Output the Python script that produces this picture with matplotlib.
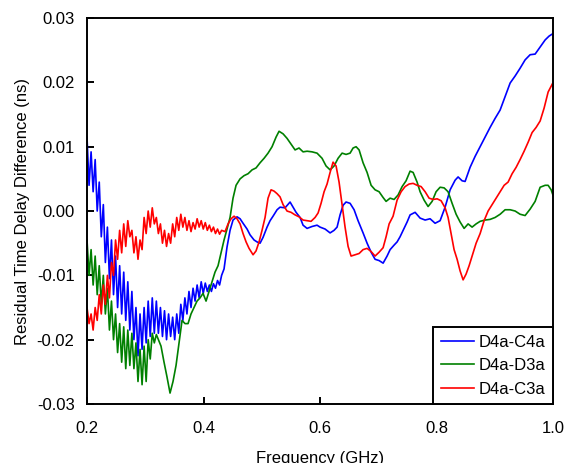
import matplotlib
matplotlib.use("Agg")
import matplotlib.pyplot as plt
from matplotlib.ticker import FormatStrFormatter, MultipleLocator

plt.rcParams['font.family'] = ['Liberation Sans', 'DejaVu Sans']
plt.rcParams['axes.unicode_minus'] = False

# frequency grid of the noisy low-frequency part (GHz)
f_low = [0.2000, 0.2035, 0.2070, 0.2105, 0.2140, 0.2175, 0.2210, 0.2245, 0.2280, 0.2315,
         0.2350, 0.2385, 0.2420, 0.2455, 0.2490, 0.2525, 0.2560, 0.2595, 0.2630, 0.2665,
         0.2700, 0.2735, 0.2770, 0.2805, 0.2840, 0.2875, 0.2910, 0.2945, 0.2980, 0.3015,
         0.3050, 0.3085, 0.3120, 0.3155, 0.3190, 0.3225, 0.3260, 0.3295, 0.3330, 0.3365,
         0.3400, 0.3435, 0.3470, 0.3505, 0.3540, 0.3575, 0.3610, 0.3645, 0.3680, 0.3715,
         0.3750, 0.3785, 0.3820, 0.3855, 0.3890, 0.3925, 0.3960, 0.3995, 0.4030, 0.4065,
         0.4100, 0.4135, 0.4170, 0.4205, 0.4240, 0.4275, 0.4310]

# D4a-C4a
c4a_low = [0.0115, 0.0040, 0.0092, 0.0030, 0.0080, 0.0000, 0.0045, -0.0040, 0.0010, -0.0080,
           -0.0025, -0.0105, -0.0045, -0.0130, -0.0070, -0.0150, -0.0085, -0.0160, -0.0095, -0.0170,
           -0.0110, -0.0185, -0.0125, -0.0200, -0.0150, -0.0225, -0.0160, -0.0215, -0.0150, -0.0205,
           -0.0140, -0.0195, -0.0135, -0.0190, -0.0140, -0.0190, -0.0150, -0.0195, -0.0155, -0.0200,
           -0.0160, -0.0195, -0.0165, -0.0200, -0.0160, -0.0190, -0.0145, -0.0170, -0.0135, -0.0160,
           -0.0125, -0.0150, -0.0120, -0.0140, -0.0115, -0.0135, -0.0110, -0.0128, -0.0112, -0.0125,
           -0.0115, -0.0125, -0.0113, -0.0120, -0.0108, -0.0115, -0.0100]
c4a_f = [0.4352, 0.4403, 0.4455, 0.4506, 0.4575, 0.4627, 0.4678, 0.4747, 0.4798, 0.4867,
         0.4918, 0.4970, 0.5021, 0.5090, 0.5142, 0.5193, 0.5262, 0.5313, 0.5399, 0.5485,
         0.5536, 0.5588, 0.5657, 0.5708, 0.5777, 0.5863, 0.5948, 0.6000, 0.6086, 0.6172,
         0.6240, 0.6292, 0.6343, 0.6395, 0.6446, 0.6515, 0.6584, 0.6652, 0.6738, 0.6807,
         0.6876, 0.6944, 0.7013, 0.7082, 0.7150, 0.7202, 0.7270, 0.7322, 0.7373, 0.7425,
         0.7494, 0.7545, 0.7631, 0.7717, 0.7803, 0.7888, 0.7974, 0.8060, 0.8146, 0.8232,
         0.8318, 0.8369, 0.8438, 0.8489, 0.8575, 0.8661, 0.8747, 0.8833, 0.8918, 0.9004,
         0.9090, 0.9176, 0.9262, 0.9348, 0.9433, 0.9519, 0.9605, 0.9691, 0.9777, 0.9863,
         0.9931, 1.0000]
c4a = [-0.0090, -0.0056, -0.0030, -0.0014, -0.0009, -0.0012, -0.0019, -0.0028, -0.0037, -0.0045,
       -0.0048, -0.0050, -0.0041, -0.0025, -0.0015, -0.0008, 0.0002, 0.0006, 0.0005, 0.0014,
       0.0006, -0.0002, -0.0010, -0.0022, -0.0027, -0.0024, -0.0022, -0.0025, -0.0028, -0.0034,
       -0.0030, -0.0025, -0.0006, 0.0009, 0.0014, 0.0012, 0.0002, -0.0015, -0.0034, -0.0050,
       -0.0064, -0.0075, -0.0077, -0.0081, -0.0070, -0.0060, -0.0053, -0.0048, -0.0040, -0.0030,
       -0.0017, -0.0006, -0.0002, -0.0011, -0.0014, -0.0012, -0.0019, -0.0015, 0.0006, 0.0033,
       0.0048, 0.0053, 0.0047, 0.0046, 0.0068, 0.0085, 0.0100, 0.0115, 0.0130, 0.0144,
       0.0157, 0.0178, 0.0199, 0.0210, 0.0222, 0.0235, 0.0243, 0.0244, 0.0255, 0.0266,
       0.0272, 0.0276]

# D4a-D3a
d3a_low = [-0.0045, -0.0100, -0.0060, -0.0115, -0.0070, -0.0130, -0.0085, -0.0145, -0.0100, -0.0160,
           -0.0120, -0.0185, -0.0140, -0.0200, -0.0160, -0.0220, -0.0175, -0.0235, -0.0180, -0.0245,
           -0.0185, -0.0240, -0.0190, -0.0245, -0.0205, -0.0265, -0.0215, -0.0270, -0.0210, -0.0265,
           -0.0200, -0.0230, -0.0190, -0.0205, -0.0192, -0.0200]
d3a_f = [0.3270, 0.3322, 0.3373, 0.3425, 0.3476, 0.3528, 0.3579, 0.3631, 0.3682, 0.3734,
         0.3785, 0.3837, 0.3888, 0.3940, 0.3991, 0.4043, 0.4094, 0.4146, 0.4197, 0.4249,
         0.4300, 0.4352, 0.4403, 0.4455, 0.4506, 0.4558, 0.4627, 0.4695, 0.4764, 0.4833,
         0.4901, 0.4970, 0.5039, 0.5107, 0.5176, 0.5245, 0.5296, 0.5365, 0.5433, 0.5502,
         0.5571, 0.5639, 0.5708, 0.5777, 0.5863, 0.5948, 0.6034, 0.6103, 0.6172, 0.6240,
         0.6309, 0.6378, 0.6446, 0.6515, 0.6567, 0.6618, 0.6670, 0.6738, 0.6807, 0.6876,
         0.6944, 0.7013, 0.7082, 0.7133, 0.7202, 0.7270, 0.7339, 0.7408, 0.7476, 0.7545,
         0.7597, 0.7665, 0.7717, 0.7785, 0.7854, 0.7923, 0.7991, 0.8060, 0.8129, 0.8197,
         0.8266, 0.8335, 0.8403, 0.8472, 0.8541, 0.8609, 0.8678, 0.8747, 0.8833, 0.8918,
         0.9004, 0.9090, 0.9176, 0.9262, 0.9348, 0.9433, 0.9519, 0.9605, 0.9691, 0.9777,
         0.9863, 0.9914, 0.9966, 1.0000]
d3a = [-0.0210, -0.0235, -0.0258, -0.0283, -0.0265, -0.0240, -0.0205, -0.0170, -0.0175, -0.0175,
       -0.0160, -0.0150, -0.0140, -0.0135, -0.0128, -0.0140, -0.0125, -0.0110, -0.0095, -0.0085,
       -0.0065, -0.0045, -0.0028, -0.0010, 0.0020, 0.0040, 0.0050, 0.0055, 0.0058, 0.0064,
       0.0067, 0.0075, 0.0082, 0.0090, 0.0100, 0.0115, 0.0124, 0.0120, 0.0113, 0.0104,
       0.0095, 0.0098, 0.0092, 0.0093, 0.0092, 0.0090, 0.0082, 0.0070, 0.0064, 0.0070,
       0.0082, 0.0090, 0.0088, 0.0090, 0.0098, 0.0100, 0.0095, 0.0075, 0.0060, 0.0040,
       0.0033, 0.0030, 0.0021, 0.0015, 0.0020, 0.0018, 0.0025, 0.0038, 0.0047, 0.0062,
       0.0060, 0.0045, 0.0030, 0.0017, 0.0007, 0.0015, 0.0030, 0.0037, 0.0036, 0.0030,
       0.0012, -0.0005, -0.0017, -0.0027, -0.0020, -0.0025, -0.0020, -0.0016, -0.0014, -0.0013,
       -0.0010, -0.0005, 0.0002, 0.0002, 0.0000, -0.0005, -0.0007, 0.0003, 0.0015, 0.0037,
       0.0040, 0.0040, 0.0033, 0.0024]

# D4a-C3a
c3a_low = [-0.0150, -0.0175, -0.0160, -0.0185, -0.0150, -0.0170, -0.0130, -0.0160, -0.0115, -0.0145,
           -0.0100, -0.0135, -0.0080, -0.0100, -0.0045, -0.0075, -0.0030, -0.0065, -0.0020, -0.0055,
           -0.0015, -0.0040, -0.0030, -0.0065, -0.0040, -0.0075, -0.0045, -0.0060, -0.0010, -0.0035,
           0.0000, -0.0025, 0.0005, -0.0020, -0.0010, -0.0035, -0.0020, -0.0050, -0.0030, -0.0055,
           -0.0035, -0.0050, -0.0020, -0.0040, -0.0010, -0.0030, -0.0005, -0.0025, -0.0010, -0.0030,
           -0.0015, -0.0032, -0.0018, -0.0028, -0.0012, -0.0025, -0.0015, -0.0028, -0.0018, -0.0030,
           -0.0022, -0.0032, -0.0025, -0.0035, -0.0028, -0.0036, -0.0030]
c3a_f = [0.4369, 0.4421, 0.4472, 0.4524, 0.4575, 0.4627, 0.4678, 0.4730, 0.4781, 0.4850,
         0.4901, 0.4953, 0.5004, 0.5056, 0.5107, 0.5159, 0.5210, 0.5262, 0.5313, 0.5365,
         0.5433, 0.5502, 0.5571, 0.5639, 0.5708, 0.5777, 0.5845, 0.5914, 0.5966, 0.6017,
         0.6069, 0.6120, 0.6172, 0.6223, 0.6275, 0.6326, 0.6378, 0.6429, 0.6481, 0.6532,
         0.6601, 0.6670, 0.6738, 0.6807, 0.6876, 0.6944, 0.7013, 0.7082, 0.7133, 0.7185,
         0.7253, 0.7322, 0.7391, 0.7459, 0.7528, 0.7597, 0.7665, 0.7734, 0.7803, 0.7871,
         0.7940, 0.8009, 0.8077, 0.8146, 0.8197, 0.8249, 0.8300, 0.8352, 0.8403, 0.8455,
         0.8506, 0.8558, 0.8609, 0.8678, 0.8747, 0.8815, 0.8884, 0.8953, 0.9021, 0.9090,
         0.9159, 0.9227, 0.9296, 0.9365, 0.9433, 0.9502, 0.9571, 0.9639, 0.9708, 0.9777,
         0.9845, 0.9914, 1.0000]
c3a = [-0.0032, -0.0020, -0.0012, -0.0008, -0.0012, -0.0020, -0.0035, -0.0048, -0.0058, -0.0068,
       -0.0062, -0.0048, -0.0030, -0.0010, 0.0020, 0.0033, 0.0031, 0.0027, 0.0022, 0.0010,
       0.0000, -0.0002, -0.0006, -0.0009, -0.0014, -0.0015, -0.0016, -0.0010, -0.0003, 0.0012,
       0.0030, 0.0042, 0.0060, 0.0076, 0.0070, 0.0045, 0.0010, -0.0025, -0.0055, -0.0070,
       -0.0068, -0.0066, -0.0060, -0.0058, -0.0063, -0.0070, -0.0064, -0.0057, -0.0040, -0.0020,
       -0.0008, 0.0017, 0.0030, 0.0038, 0.0042, 0.0043, 0.0040, 0.0038, 0.0030, 0.0020,
       0.0018, 0.0019, 0.0016, 0.0005, -0.0010, -0.0035, -0.0060, -0.0075, -0.0093, -0.0107,
       -0.0098, -0.0085, -0.0070, -0.0050, -0.0035, -0.0015, 0.0000, 0.0010, 0.0020, 0.0030,
       0.0040, 0.0045, 0.0058, 0.0068, 0.0080, 0.0093, 0.0107, 0.0122, 0.0130, 0.0140,
       0.0160, 0.0185, 0.0200]

fig = plt.figure(figsize=(5.65, 4.63), dpi=100)
ax = fig.add_axes([0.154, 0.1274, 0.825, 0.8336])

ax.plot(f_low + c4a_f, c4a_low + c4a, color="#0000ff", lw=1.2, label="D4a-C4a")
ax.plot(f_low[:len(d3a_low)] + d3a_f, d3a_low + d3a, color="#008000", lw=1.2, label="D4a-D3a")
ax.plot(f_low + c3a_f, c3a_low + c3a, color="#ff0000", lw=1.2, label="D4a-C3a")

ax.set_xlim(0.2, 1.0)
ax.set_ylim(-0.03, 0.03)
ax.xaxis.set_major_locator(MultipleLocator(0.2))
ax.yaxis.set_major_locator(MultipleLocator(0.01))
ax.xaxis.set_major_formatter(FormatStrFormatter("%.1f"))
ax.yaxis.set_major_formatter(FormatStrFormatter("%.2f"))
ax.tick_params(direction="in", length=5, width=1.4, labelsize=12,
               top=False, right=False)
ax.tick_params(axis="x", pad=12)
ax.tick_params(axis="y", pad=9)
for s in ax.spines.values():
    s.set_linewidth(1.4)

ax.set_xlabel("Frequency (GHz)", fontsize=12, labelpad=11)
ax.set_ylabel("Residual Time Delay Difference (ns)", fontsize=12, labelpad=5)

leg = ax.legend(loc="lower right", borderaxespad=0, fancybox=False, framealpha=1,
                edgecolor="black", fontsize=12, handlelength=2.0, handletextpad=0.3,
                labelspacing=0.5, borderpad=0.45)
leg.get_frame().set_linewidth(1.4)

fig.savefig("out.png", dpi=100)
